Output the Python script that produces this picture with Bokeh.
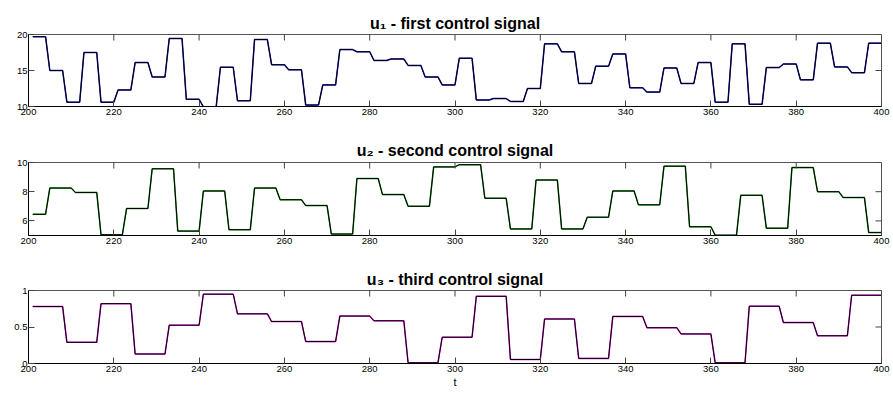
import numpy as np
from bokeh.plotting import figure
from bokeh.models import Range1d, FixedTicker, Title
from bokeh.layouts import column
from bokeh.embed import file_html
from bokeh.resources import INLINE

# ---------------- data ----------------
T_FIRST, T_LAST = 201, 400
x_ticks = [200, 220, 240, 260, 280, 300, 320, 340, 360, 380, 400]

# u1: new level every 4 samples
u1_levels = [19.7, 15.0, 10.6, 17.5, 10.6, 12.3, 16.1, 14.1, 19.45, 11.0,
             9.95, 15.45, 10.8, 19.3, 15.8, 15.1, 10.2, 13.0, 17.9, 17.6,
             16.4, 16.6, 15.7, 14.1, 13.0, 16.7, 10.9, 11.1, 10.7, 12.5,
             18.7, 17.6, 13.2, 15.6, 17.3, 12.6, 12.0, 15.35, 13.2, 16.1,
             10.6, 18.7, 10.3, 15.4, 15.9, 13.7, 18.8, 15.5, 14.7, 18.8]
u1_first_end, u1_hold = 204, 4
u1_yticks = [10, 15, 20]
u1_title = "u\u2081 - first control signal"

# u2: new level every 6 samples
u2_levels = [6.45, 8.25, 7.95, 5.05, 6.85, 9.57, 5.3, 8.05, 5.4, 8.25,
             7.45, 7.05, 5.1, 8.9, 7.8, 7.0, 9.7, 9.85, 7.55, 5.45,
             8.8, 5.45, 6.25, 8.05, 7.1, 9.75, 5.6, 5.02, 7.75, 5.5,
             9.65, 8.0, 7.6, 5.2]
u2_first_end, u2_hold = 204, 6
u2_yticks = [6, 8, 10]
u2_title = "u\u2082 - second control signal"

# u3: new level every 8 samples
u3_levels = [0.78, 0.29, 0.82, 0.13, 0.525, 0.95, 0.68, 0.575, 0.3, 0.65,
             0.585, 0.01, 0.36, 0.92, 0.055, 0.61, 0.07, 0.645, 0.49, 0.405,
             0.01, 0.785, 0.56, 0.38, 0.935]
u3_first_end, u3_hold = 208, 8
u3_yticks = [0, 0.5, 1]
u3_ylabels = {0: "0", 0.5: "0.5", 1: "1"}
u3_title = "u\u2083 - third control signal"

FONT = "Liberation Sans"
FRAME_W = 853
TICK = 6  # px, inward


def vertices(levels, first_end, hold):
    xs, ys = [], []
    start, end = T_FIRST, first_end
    for v in levels:
        xs += [start, min(end, T_LAST)]
        ys += [v, v]
        start = end + 1
        end = start + hold - 1
    return xs, ys


def panel(levels, first_end, hold, color, y0, y1, yticks, title, standoff,
          top_b, frame_h, bot_b, xlabel=None, ylabels=None):
    p = figure(frame_width=FRAME_W, frame_height=frame_h,
               min_border=0, min_border_left=28, min_border_right=12,
               min_border_top=top_b, min_border_bottom=bot_b,
               x_range=Range1d(200, 400), y_range=Range1d(y0, y1),
               output_backend="svg", toolbar_location=None)
    p.title = Title(text=title, align="center", text_font=FONT,
                    text_font_size="16px", text_font_style="bold",
                    text_color="black", standoff=standoff)
    p.outline_line_color = "#555555"
    p.outline_line_width = 1
    p.grid.visible = False

    xs, ys = vertices(levels, first_end, hold)
    p.line(xs, ys, line_color=color, line_width=1.5)
    p.line(xs, ys, line_color="black", line_width=1.0)

    # inward ticks on the top and right edges of the box
    dy = TICK * (y1 - y0) / frame_h
    dx = TICK * 200.0 / FRAME_W
    p.segment(x0=x_ticks, y0=[y1] * len(x_ticks), x1=x_ticks,
              y1=[y1 - dy] * len(x_ticks), line_color="#444444", line_width=1)
    p.segment(x0=[400] * len(yticks), y0=yticks, x1=[400 - dx] * len(yticks),
              y1=yticks, line_color="#444444", line_width=1)

    for ax, tk in ((p.xaxis[0], x_ticks), (p.yaxis[0], yticks)):
        ax.ticker = FixedTicker(ticks=tk)
        ax.major_tick_in = TICK
        ax.major_tick_out = 0
        ax.minor_tick_line_color = None
        ax.axis_line_color = "black"
        ax.major_tick_line_color = "#444444"
        ax.major_label_text_font = FONT
        ax.major_label_text_font_size = "9.5px"
        ax.major_label_text_color = "black"
    p.xaxis[0].major_label_standoff = 2
    p.yaxis[0].major_label_standoff = 1
    if ylabels:
        p.yaxis[0].major_label_overrides = ylabels
    if xlabel:
        ax = p.xaxis[0]
        ax.axis_label = xlabel
        ax.axis_label_text_font = FONT
        ax.axis_label_text_font_size = "11px"
        ax.axis_label_text_font_style = "normal"
        ax.axis_label_text_color = "black"
        ax.axis_label_standoff = 1
    return p


p1 = panel(u1_levels, u1_first_end, u1_hold, "#1515d0", 10, 20, u1_yticks,
           u1_title, 5, 34, 72, 29)
p2 = panel(u2_levels, u2_first_end, u2_hold, "#119011", 5, 10, u2_yticks,
           u2_title, 7, 27, 73, 28)
p3 = panel(u3_levels, u3_first_end, u3_hold, "#e010e0", 0, 1, u3_yticks,
           u3_title, 5, 27, 73, 30, xlabel="t", ylabels=u3_ylabels)

layout = column(p1, p2, p3, spacing=0)
open("out.html", "w").write(file_html(layout, INLINE))
